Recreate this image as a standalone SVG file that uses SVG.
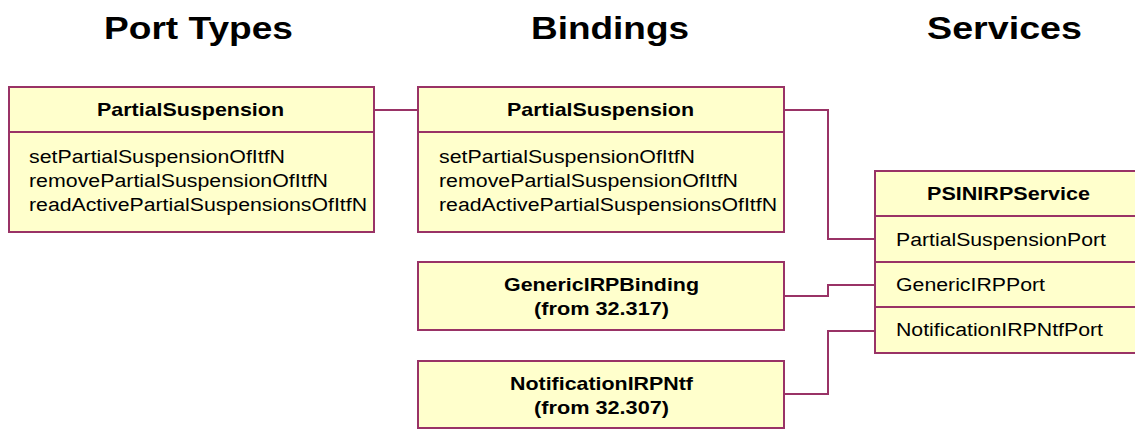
<svg xmlns="http://www.w3.org/2000/svg" width="1135" height="429" viewBox="0 0 1135 429">
<style>
.box{fill:#FFFFCC;stroke:#993366;stroke-width:2}
.div{stroke:#993366;stroke-width:2;fill:none}
.conn{stroke:#993366;stroke-width:2;fill:none}
text{font-family:"Liberation Sans",Arial,sans-serif;fill:#000}
.title{font-size:32px;font-weight:bold}
.hd{font-size:18.5px;font-weight:bold}
.tx{font-size:18px}
</style>
<rect width="1135" height="429" fill="#FFFFFF"/>
<g id="titles">
<text class="title" x="104" y="39" textLength="189" lengthAdjust="spacingAndGlyphs">Port Types</text>
<text class="title" x="531" y="39" textLength="158" lengthAdjust="spacingAndGlyphs">Bindings</text>
<text class="title" x="927" y="39" textLength="155" lengthAdjust="spacingAndGlyphs">Services</text>
</g>
<g id="connectors">
<polyline class="conn" points="374,110 418,110"/>
<polyline class="conn" points="784,110 828,110 828,239 875,239"/>
<polyline class="conn" points="784,296 828,296 828,285 875,285"/>
<polyline class="conn" points="784,394 828,394 828,331 875,331"/>
</g>
<g id="pt-PartialSuspension">
<rect class="box" x="9" y="87" width="365" height="145"/>
<line class="div" x1="9" y1="132" x2="374" y2="132"/>
<text class="hd" x="97" y="116" textLength="187" lengthAdjust="spacingAndGlyphs">PartialSuspension</text>
<text class="tx" x="29" y="163" textLength="256" lengthAdjust="spacingAndGlyphs">setPartialSuspensionOfItfN</text>
<text class="tx" x="29" y="187" textLength="299" lengthAdjust="spacingAndGlyphs">removePartialSuspensionOfItfN</text>
<text class="tx" x="29" y="211" textLength="338" lengthAdjust="spacingAndGlyphs">readActivePartialSuspensionsOfItfN</text>
</g>
<g id="b-PartialSuspension">
<rect class="box" x="418" y="87" width="366" height="145"/>
<line class="div" x1="418" y1="132" x2="784" y2="132"/>
<text class="hd" x="507" y="116" textLength="187" lengthAdjust="spacingAndGlyphs">PartialSuspension</text>
<text class="tx" x="439" y="163" textLength="256" lengthAdjust="spacingAndGlyphs">setPartialSuspensionOfItfN</text>
<text class="tx" x="439" y="187" textLength="299" lengthAdjust="spacingAndGlyphs">removePartialSuspensionOfItfN</text>
<text class="tx" x="439" y="211" textLength="338" lengthAdjust="spacingAndGlyphs">readActivePartialSuspensionsOfItfN</text>
</g>
<g id="b-GenericIRPBinding">
<rect class="box" x="418" y="262" width="366" height="68"/>
<text class="hd" x="504" y="291" textLength="195" lengthAdjust="spacingAndGlyphs">GenericIRPBinding</text>
<text class="hd" x="534" y="315" textLength="135" lengthAdjust="spacingAndGlyphs">(from 32.317)</text>
</g>
<g id="b-NotificationIRPNtf">
<rect class="box" x="418" y="361" width="366" height="67"/>
<text class="hd" x="510" y="390" textLength="183" lengthAdjust="spacingAndGlyphs">NotificationIRPNtf</text>
<text class="hd" x="534" y="414" textLength="135" lengthAdjust="spacingAndGlyphs">(from 32.307)</text>
</g>
<g id="s-PSINIRPService">
<rect class="box" x="875" y="171" width="268" height="182"/>
<line class="div" x1="875" y1="216" x2="1143" y2="216"/>
<line class="div" x1="875" y1="262" x2="1143" y2="262"/>
<line class="div" x1="875" y1="307" x2="1143" y2="307"/>
<text class="hd" x="927" y="200" textLength="163" lengthAdjust="spacingAndGlyphs">PSINIRPService</text>
<text class="tx" x="896" y="246" textLength="210" lengthAdjust="spacingAndGlyphs">PartialSuspensionPort</text>
<text class="tx" x="896" y="291" textLength="149" lengthAdjust="spacingAndGlyphs">GenericIRPPort</text>
<text class="tx" x="896" y="336" textLength="207" lengthAdjust="spacingAndGlyphs">NotificationIRPNtfPort</text>
</g>
</svg>
